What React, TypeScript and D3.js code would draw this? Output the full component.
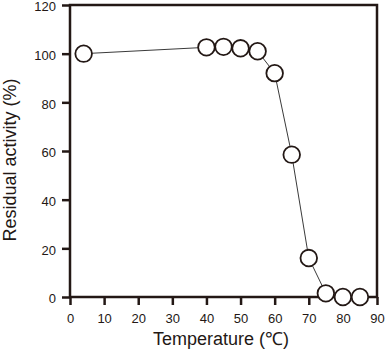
import React, { useEffect, useRef } from 'react';
import * as d3 from 'd3';

const temperatures = [4, 40, 45, 50, 55, 60, 65, 70, 75, 80, 85];
const activity = [100, 102.6, 102.8, 102.2, 101, 92, 58.5, 16, 1.5, 0, 0];
const xTicks = [0, 10, 20, 30, 40, 50, 60, 70, 80, 90];
const yTicks = [0, 20, 40, 60, 80, 100, 120];

const ink = '#231815';

const App = () => {
  const svgRef = useRef<SVGSVGElement>(null);

  useEffect(() => {
    const svg = d3.select(svgRef.current);
    svg.selectAll('*').remove();

    const left = 70, right = 377, top = 5, bottom = 297;

    const x = d3.scaleLinear().domain([0, 90]).range([left, right]);
    const y = d3.scaleLinear().domain([0, 120]).range([bottom, top]);

    const font = 'Liberation Sans, Arial, Helvetica, sans-serif';

    // frame
    svg.append('rect')
      .attr('x', left)
      .attr('y', top)
      .attr('width', right - left)
      .attr('height', bottom - top)
      .attr('fill', 'none')
      .attr('stroke', ink)
      .attr('stroke-width', 2.5);

    const xAxis = svg.append('g')
      .attr('transform', `translate(0,${bottom})`)
      .call(d3.axisBottom(x).tickValues(xTicks).tickSize(8).tickPadding(9).tickSizeOuter(0));
    const yAxis = svg.append('g')
      .attr('transform', `translate(${left},0)`)
      .call(d3.axisLeft(y).tickValues(yTicks).tickSize(8).tickPadding(6).tickSizeOuter(0));

    [xAxis, yAxis].forEach(g => {
      g.select('.domain').remove();
      g.selectAll('line').attr('stroke', ink).attr('stroke-width', 2.5);
      g.selectAll('text')
        .attr('fill', ink)
        .attr('font-family', font)
        .attr('font-size', 13);
    });
    yAxis.selectAll('text').attr('dy', '0.45em');

    const line = d3.line<number>()
      .x((_, i) => x(temperatures[i]))
      .y(d => y(d));

    svg.append('path')
      .datum(activity)
      .attr('fill', 'none')
      .attr('stroke', '#3a3a3a')
      .attr('stroke-width', 1)
      .attr('d', line);

    svg.selectAll('circle')
      .data(activity)
      .enter()
      .append('circle')
      .attr('cx', (_, i) => x(temperatures[i]))
      .attr('cy', d => y(d))
      .attr('r', 8.3)
      .attr('fill', '#fff')
      .attr('stroke', ink)
      .attr('stroke-width', 1.8);

    svg.append('text')
      .attr('x', 221)
      .attr('y', 345)
      .attr('text-anchor', 'middle')
      .attr('font-family', font)
      .attr('font-size', 18)
      .attr('fill', ink)
      .text('Temperature (℃)');

    svg.append('text')
      .attr('transform', `translate(16,160) rotate(-90)`)
      .attr('text-anchor', 'middle')
      .attr('font-family', font)
      .attr('font-size', 18)
      .attr('fill', ink)
      .text('Residual activity (%)');
  }, []);

  return (
    <svg
      ref={svgRef}
      width={385}
      height={353}
      style={{ position: 'absolute', left: 0, top: 0, background: '#fff' }}
    />
  );
};

export default App;
